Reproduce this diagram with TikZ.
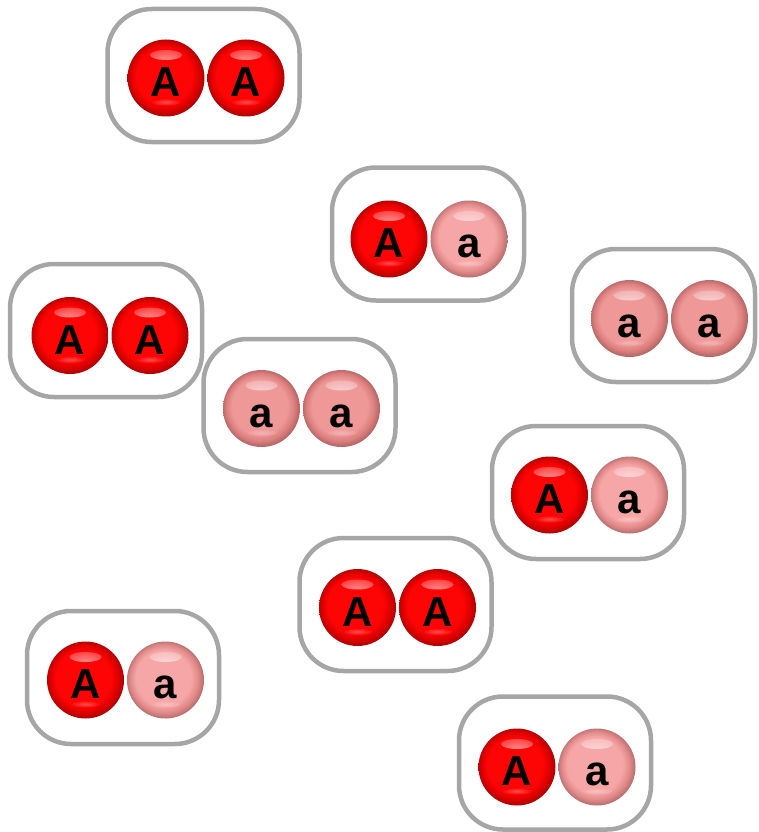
\documentclass[tikz,border=0pt]{standalone}
\usepackage{fontspec}
\setmainfont{Liberation Sans}
\definecolor{boxgray}{RGB}{166,166,166}
\definecolor{rA1}{RGB}{255,4,4}
\definecolor{rA2}{RGB}{222,0,0}
\definecolor{rA3}{RGB}{105,10,10}
\definecolor{pL1}{RGB}{246,166,166}
\definecolor{pL2}{RGB}{226,138,138}
\definecolor{pL3}{RGB}{128,75,75}
\definecolor{pS1}{RGB}{238,152,152}
\definecolor{pS2}{RGB}{220,126,126}
\definecolor{pS3}{RGB}{125,68,68}
\pgfdeclareradialshading{redsh}{\pgfpoint{-3.5bp}{3.5bp}}{color(0bp)=(rA1); color(18bp)=(rA1); color(22bp)=(rA2); color(29.5bp)=(rA3)}
\pgfdeclareradialshading{pinkLsh}{\pgfpoint{-3.5bp}{3.5bp}}{color(0bp)=(pL1); color(18bp)=(pL1); color(22bp)=(pL2); color(29.5bp)=(pL3)}
\pgfdeclareradialshading{pinkSsh}{\pgfpoint{-3.5bp}{3.5bp}}{color(0bp)=(pS1); color(18bp)=(pS1); color(22bp)=(pS2); color(29.5bp)=(pS3)}
\tikzset{
  box/.style={draw=boxgray, line width=4.5pt, rounded corners=44pt, minimum width=192pt, minimum height=133pt, inner sep=0pt},
  ball/.style 2 args={circle, minimum size=77pt, inner sep=0pt, text height=37pt, text depth=0pt,
    font=\fontsize{42}{42}\selectfont\bfseries, shade, shading=#2,
    path picture={
      \shade[inner color=white, outer color=#1] ([yshift=23pt]path picture bounding box.center) ellipse [x radius=16pt, y radius=5pt];
      \shade[inner color=#1!70!white, outer color=#1] ([yshift=-24pt]path picture bounding box.center) ellipse [x radius=15pt, y radius=3.5pt];
    }},
  bigA/.style={ball={rA1}{redsh}},
  smallaL/.style={ball={pL1}{pinkLsh}},
  smallaS/.style={ball={pS1}{pinkSsh}}
}
\begin{document}
\begin{tikzpicture}[x=1pt,y=-1pt]
\useasboundingbox (0,0) rectangle (759,832);
% 1 AA
\node[box] (b1) at (203.5,75.5) {};
\node[bigA] (b1l) at (166,78) {A};
\node[bigA] (b1r) at (246,78) {A};
% 2 Aa
\node[box] (b2) at (428,234) {};
\node[bigA] (b2l) at (389,239) {A};
\node[smallaL] (b2r) at (469,239) {a};
% 3 aa
\node[box, minimum width=183pt] (b3) at (663.5,315.5) {};
\node[smallaS] (b3l) at (629.5,318.5) {a};
\node[smallaS] (b3r) at (709.5,318.5) {a};
% 4 AA
\node[box] (b4) at (106,330.5) {};
\node[bigA] (b4l) at (70,335.5) {A};
\node[bigA] (b4r) at (150,335.5) {A};
% 5 aa
\node[box] (b5) at (299.5,405.5) {};
\node[smallaS] (b5l) at (261.5,408.5) {a};
\node[smallaS] (b5r) at (341.5,408.5) {a};
% 6 Aa
\node[box] (b6) at (588,492.5) {};
\node[bigA] (b6l) at (549.5,495) {A};
\node[smallaL] (b6r) at (629.5,495) {a};
% 7 AA
\node[box] (b7) at (395.5,604.5) {};
\node[bigA] (b7l) at (357.5,607.5) {A};
\node[bigA] (b7r) at (437.5,607.5) {A};
% 8 Aa
\node[box] (b8) at (123,677.5) {};
\node[bigA] (b8l) at (85.5,680) {A};
\node[smallaL] (b8r) at (165.5,680) {a};
% 9 Aa
\node[box] (b9) at (555,763) {};
\node[bigA] (b9l) at (517,767) {A};
\node[smallaL] (b9r) at (597,767) {a};
\end{tikzpicture}
\end{document}
